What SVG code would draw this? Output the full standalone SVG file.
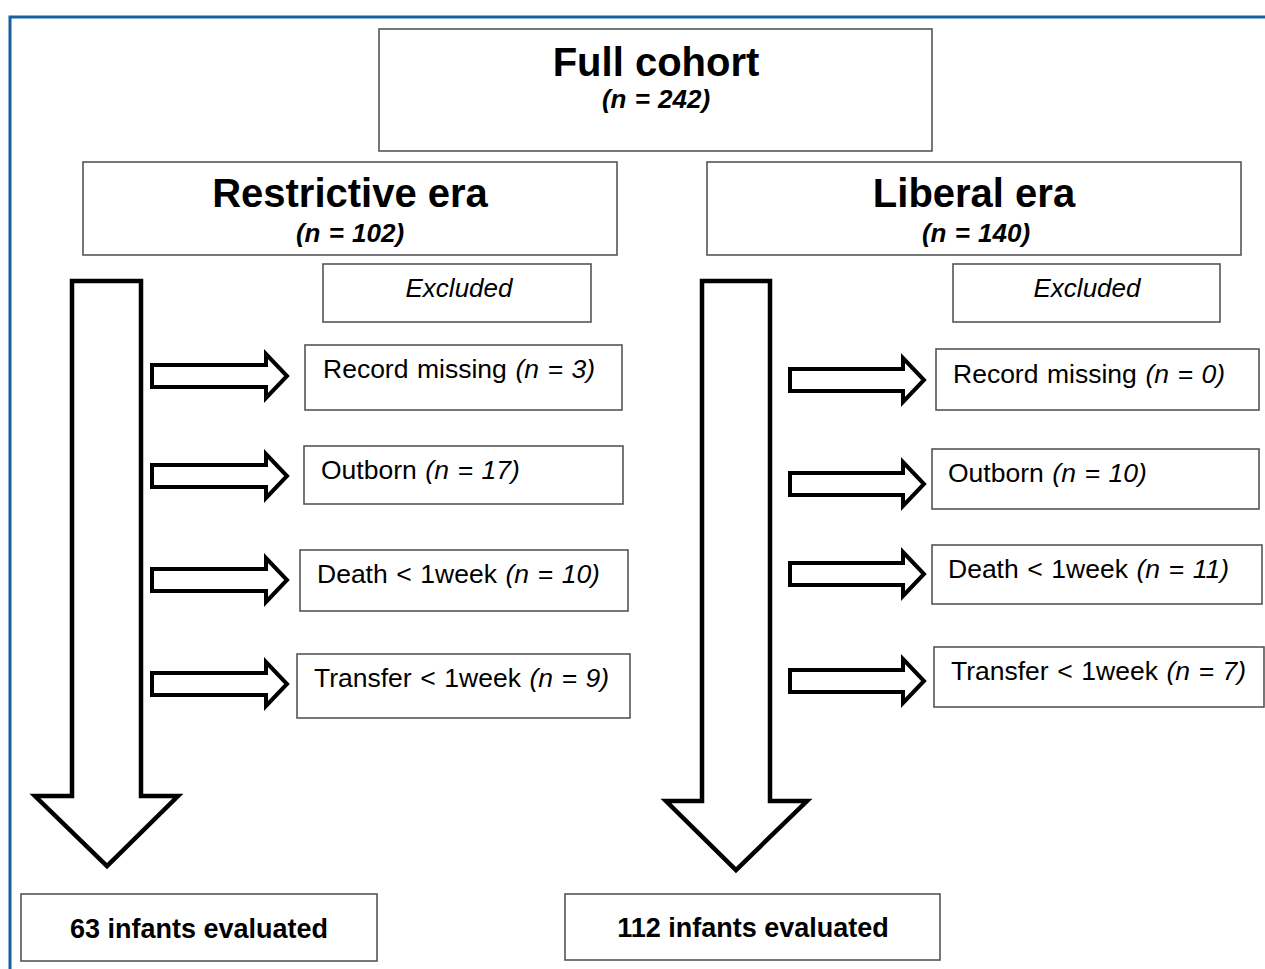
<svg xmlns="http://www.w3.org/2000/svg" width="1265" height="969" viewBox="0 0 1265 969">
<style>
.box{fill:#fff;stroke:#555;stroke-width:1.6}
.big{fill:#fff;stroke:#000;stroke-width:4.5;stroke-linejoin:miter}
.sm{fill:#fff;stroke:#000;stroke-width:4;stroke-linejoin:miter}
text{font-family:"Liberation Sans",Arial,sans-serif;fill:#000}
.h1{font-size:40px;font-weight:bold;text-anchor:middle}
.h2{font-size:26px;font-weight:bold;font-style:italic;text-anchor:middle;word-spacing:1px}
.ex{font-size:26px;font-style:italic;text-anchor:middle}
.lb{font-size:26.5px;word-spacing:1.2px}
.ev{font-size:27px;font-weight:bold;text-anchor:middle}
</style>
<rect width="1265" height="969" fill="#fff"/>
<path d="M10,969 V17 H1265" fill="none" stroke="#1a5fa0" stroke-width="3"/>

<g id="full-cohort">
<rect class="box" x="379" y="29" width="553" height="122"/>
<text class="h1" x="656" y="76">Full cohort</text>
<text class="h2" x="656" y="108">(n = 242)</text>
</g>
<g id="restrictive-era">
<rect class="box" x="83" y="162" width="534" height="93"/>
<text class="h1" x="350" y="207">Restrictive era</text>
<text class="h2" x="350" y="242">(n = 102)</text>
</g>
<g id="liberal-era">
<rect class="box" x="707" y="162" width="534" height="93"/>
<text class="h1" x="974" y="207">Liberal era</text>
<text class="h2" x="976" y="242">(n = 140)</text>
</g>
<g id="excluded-left">
<rect class="box" x="323" y="264" width="268" height="58"/>
<text class="ex" x="459" y="297">Excluded</text>
</g>
<g id="excluded-right">
<rect class="box" x="953" y="264" width="267" height="58"/>
<text class="ex" x="1087" y="297">Excluded</text>
</g>

<g id="l-record">
<rect class="box" x="305" y="345" width="317" height="65"/>
<text class="lb" x="323" y="378">Record missing <tspan font-style="italic">(n = 3)</tspan></text>
</g>
<g id="l-outborn">
<rect class="box" x="304" y="446" width="319" height="58"/>
<text class="lb" x="321" y="479">Outborn <tspan font-style="italic">(n = 17)</tspan></text>
</g>
<g id="l-death">
<rect class="box" x="300" y="550" width="328" height="61"/>
<text class="lb" x="317" y="583">Death &lt; 1week <tspan font-style="italic">(n = 10)</tspan></text>
</g>
<g id="l-transfer">
<rect class="box" x="297" y="654" width="333" height="64"/>
<text class="lb" x="314" y="687">Transfer &lt; 1week <tspan font-style="italic">(n = 9)</tspan></text>
</g>

<g id="r-record">
<rect class="box" x="936" y="349" width="323" height="61"/>
<text class="lb" x="953" y="383">Record missing <tspan font-style="italic">(n = 0)</tspan></text>
</g>
<g id="r-outborn">
<rect class="box" x="932" y="449" width="327" height="60"/>
<text class="lb" x="948" y="482">Outborn <tspan font-style="italic">(n = 10)</tspan></text>
</g>
<g id="r-death">
<rect class="box" x="932" y="545" width="330" height="59"/>
<text class="lb" x="948" y="578">Death &lt; 1week <tspan font-style="italic">(n = 11)</tspan></text>
</g>
<g id="r-transfer">
<rect class="box" x="934" y="647" width="330" height="60"/>
<text class="lb" x="951" y="680">Transfer &lt; 1week <tspan font-style="italic">(n = 7)</tspan></text>
</g>

<g id="l-result">
<rect class="box" x="21" y="894" width="356" height="67"/>
<text class="ev" x="199" y="938">63 infants evaluated</text>
</g>
<g id="r-result">
<rect class="box" x="565" y="894" width="375" height="66"/>
<text class="ev" x="753" y="937">112 infants evaluated</text>
</g>

<g id="connectors">
<polygon class="big" points="72,281 141,281 141,796 178,796 107,866 35,796 72,796"/>
<polygon class="big" points="702,281 770,281 770,801 807,801 736,870 666,801 702,801"/>
<polygon class="sm" points="152,365 266,365 266,354 287,376 266,398 266,387 152,387"/>
<polygon class="sm" points="152,465 266,465 266,454 287,476 266,498 266,487 152,487"/>
<polygon class="sm" points="152,569 266,569 266,558 287,580 266,602 266,591 152,591"/>
<polygon class="sm" points="152,673 266,673 266,662 287,684 266,706 266,695 152,695"/>
<polygon class="sm" points="790,369 903,369 903,358 924,380 903,402 903,391 790,391"/>
<polygon class="sm" points="790,473 903,473 903,462 924,484 903,506 903,495 790,495"/>
<polygon class="sm" points="790,563 903,563 903,552 924,574 903,596 903,585 790,585"/>
<polygon class="sm" points="790,670 903,670 903,659 924,681 903,703 903,692 790,692"/>
</g>
</svg>
